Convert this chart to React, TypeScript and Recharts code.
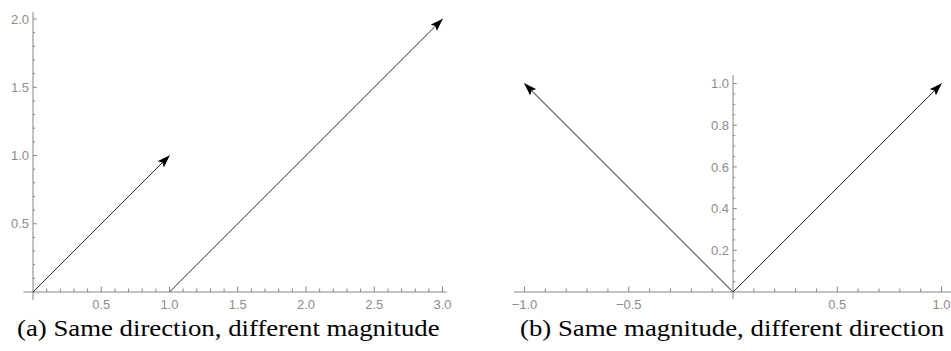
import React from 'react';
import { ComposedChart, Line, XAxis, YAxis, ReferenceLine, ReferenceDot } from 'recharts';

// panel (a): same direction, different magnitude
const vecA1 = [{ x: 0, y: 0 }, { x: 1, y: 1 }];
const vecA2 = [{ x: 1, y: 0 }, { x: 3, y: 2 }];
const aXMajor = [0.5, 1, 1.5, 2, 2.5, 3];
const aXLabels = ['0.5', '1.0', '1.5', '2.0', '2.5', '3.0'];
const aXMinor = [0.1, 0.2, 0.3, 0.4, 0.6, 0.7, 0.8, 0.9, 1.1, 1.2, 1.3, 1.4, 1.6, 1.7, 1.8, 1.9, 2.1, 2.2, 2.3, 2.4, 2.6, 2.7, 2.8, 2.9];
const aYMajor = [0.5, 1, 1.5, 2];
const aYLabels = ['0.5', '1.0', '1.5', '2.0'];
const aYMinor = [0.1, 0.2, 0.3, 0.4, 0.6, 0.7, 0.8, 0.9, 1.1, 1.2, 1.3, 1.4, 1.6, 1.7, 1.8, 1.9];

// panel (b): same magnitude, different direction
const vecB1 = [{ x: 0, y: 0 }, { x: -1, y: 1 }];
const vecB2 = [{ x: 0, y: 0 }, { x: 1, y: 1 }];
const bXMajor = [-1, -0.5, 0.5, 1];
const bXLabels = ['\u22121.0', '\u22120.5', '0.5', '1.0'];
const bXMinor = [-0.9, -0.8, -0.7, -0.6, -0.4, -0.3, -0.2, -0.1, 0.1, 0.2, 0.3, 0.4, 0.6, 0.7, 0.8, 0.9];
const bYMajor = [0.2, 0.4, 0.6, 0.8, 1];
const bYLabels = ['0.2', '0.4', '0.6', '0.8', '1.0'];
const bYMinor = [0.05, 0.1, 0.15, 0.25, 0.3, 0.35, 0.45, 0.5, 0.55, 0.65, 0.7, 0.75, 0.85, 0.9, 0.95];

const captionA = '(a) Same direction, different magnitude';
const captionB = '(b) Same magnitude, different direction';

const AXIS = '#858585';
const LABEL = '#8c8c8c';
const TICK_FONT = '"Liberation Sans", Arial, sans-serif';

function XTick({ cx, cy, len, label }: { cx: number; cy: number; len: number; label?: string }) {
  return (
    <g>
      <line x1={cx} y1={cy} x2={cx} y2={cy - len} stroke={AXIS} strokeWidth={1} />
      {label && (
        <text x={cx} y={cy + 16.5} textAnchor="middle" fill={LABEL} fontSize={13} fontFamily={TICK_FONT}>
          {label}
        </text>
      )}
    </g>
  );
}

function YTick({ cx, cy, len, label }: { cx: number; cy: number; len: number; label?: string }) {
  return (
    <g>
      <line x1={cx} y1={cy} x2={cx + len} y2={cy} stroke={AXIS} strokeWidth={1} />
      {label && (
        <text x={cx - 4} y={cy + 4.7} textAnchor="end" fill={LABEL} fontSize={13} fontFamily={TICK_FONT}>
          {label}
        </text>
      )}
    </g>
  );
}

interface Vector {
  data: { x: number; y: number }[];
  color: string;
  width: number;
}

interface PanelProps {
  id: string;
  width: number;
  height: number;
  margin: { top: number; right: number; bottom: number; left: number };
  xDomain: [number, number];
  yDomain: [number, number];
  xSpan: [number, number];
  ySpan: [number, number];
  xMajor: number[];
  xLabels: string[];
  xMinor: number[];
  yMajor: number[];
  yLabels: string[];
  yMinor: number[];
  vectors: Vector[];
}

function Panel(p: PanelProps) {
  const head = `head-${p.id}`;
  return (
    <ComposedChart width={p.width} height={p.height} margin={p.margin} style={{ overflow: 'visible' }}>
      <defs>
        <marker id={head} viewBox="0 0 13 9" refX={12.5} refY={4.5} markerWidth={13} markerHeight={9} markerUnits="userSpaceOnUse" orient="auto">
          <path d="M0,0 L13,4.5 L0,9 L2.5,4.5 Z" fill="#000" />
        </marker>
      </defs>
      <XAxis type="number" dataKey="x" domain={p.xDomain} hide />
      <YAxis type="number" dataKey="y" domain={p.yDomain} hide />

      <ReferenceLine segment={[{ x: p.xSpan[0], y: 0 }, { x: p.xSpan[1], y: 0 }]} stroke={AXIS} strokeWidth={1} ifOverflow="visible" />
      <ReferenceLine segment={[{ x: 0, y: p.ySpan[0] }, { x: 0, y: p.ySpan[1] }]} stroke={AXIS} strokeWidth={1} ifOverflow="visible" />

      {p.xMinor.map((t) => (
        <ReferenceDot key={`xm${t}`} x={t} y={0} r={0} ifOverflow="visible" shape={(s: any) => <XTick cx={s.cx} cy={s.cy} len={3.5} />} />
      ))}
      {p.xMajor.map((t, i) => (
        <ReferenceDot key={`xM${t}`} x={t} y={0} r={0} ifOverflow="visible" shape={(s: any) => <XTick cx={s.cx} cy={s.cy} len={5.5} label={p.xLabels[i]} />} />
      ))}
      {p.yMinor.map((t) => (
        <ReferenceDot key={`ym${t}`} x={0} y={t} r={0} ifOverflow="visible" shape={(s: any) => <YTick cx={s.cx} cy={s.cy} len={2.2} />} />
      ))}
      {p.yMajor.map((t, i) => (
        <ReferenceDot key={`yM${t}`} x={0} y={t} r={0} ifOverflow="visible" shape={(s: any) => <YTick cx={s.cx} cy={s.cy} len={3.8} label={p.yLabels[i]} />} />
      ))}

      {p.vectors.map((v, i) => (
        <Line
          key={i}
          data={v.data}
          dataKey="y"
          type="linear"
          stroke={v.color}
          strokeWidth={v.width}
          dot={false}
          activeDot={false}
          isAnimationActive={false}
          markerEnd={`url(#${head})`}
        />
      ))}
    </ComposedChart>
  );
}

// Computer Modern is wider than Times; stretch horizontally to match
const captionStyle: React.CSSProperties = {
  position: 'absolute',
  top: 316,
  fontFamily: '"Liberation Serif", "Times New Roman", serif',
  fontSize: 22.5,
  lineHeight: '26px',
  color: '#000',
  whiteSpace: 'nowrap',
  transform: 'scaleX(1.19)',
  transformOrigin: 'left top',
};

export default function App() {
  return (
    <div style={{ position: 'absolute', left: 0, top: 0, width: 951, height: 351, background: '#fff', overflow: 'hidden' }}>
      <div style={{ position: 'absolute', left: 0, top: 0 }}>
        <Panel
          id="a"
          width={460}
          height={315}
          margin={{ top: 12.2, right: 13.4, bottom: 23, left: 33 }}
          xDomain={[0, 3.03]}
          yDomain={[0, 2.05]}
          xSpan={[-0.07, 3.03]}
          ySpan={[-0.06, 2.05]}
          xMajor={aXMajor}
          xLabels={aXLabels}
          xMinor={aXMinor}
          yMajor={aYMajor}
          yLabels={aYLabels}
          yMinor={aYMinor}
          vectors={[
            { data: vecA1, color: '#111', width: 0.9 },
            { data: vecA2, color: '#111', width: 0.9 },
          ]}
        />
      </div>
      <div style={{ position: 'absolute', left: 480, top: 0 }}>
        <Panel
          id="b"
          width={471}
          height={315}
          margin={{ top: 75.2, right: 0.1, bottom: 23, left: 34.1 }}
          xDomain={[-1.05, 1.045]}
          yDomain={[0, 1.04]}
          xSpan={[-1.05, 1.045]}
          ySpan={[-0.035, 1.04]}
          xMajor={bXMajor}
          xLabels={bXLabels}
          xMinor={bXMinor}
          yMajor={bYMajor}
          yLabels={bYLabels}
          yMinor={bYMinor}
          vectors={[
            { data: vecB1, color: '#7a7a7a', width: 1.4 },
            { data: vecB2, color: '#111', width: 0.9 },
          ]}
        />
      </div>
      <div style={{ ...captionStyle, left: 17 }}>{captionA}</div>
      <div style={{ ...captionStyle, left: 520 }}>{captionB}</div>
    </div>
  );
}
